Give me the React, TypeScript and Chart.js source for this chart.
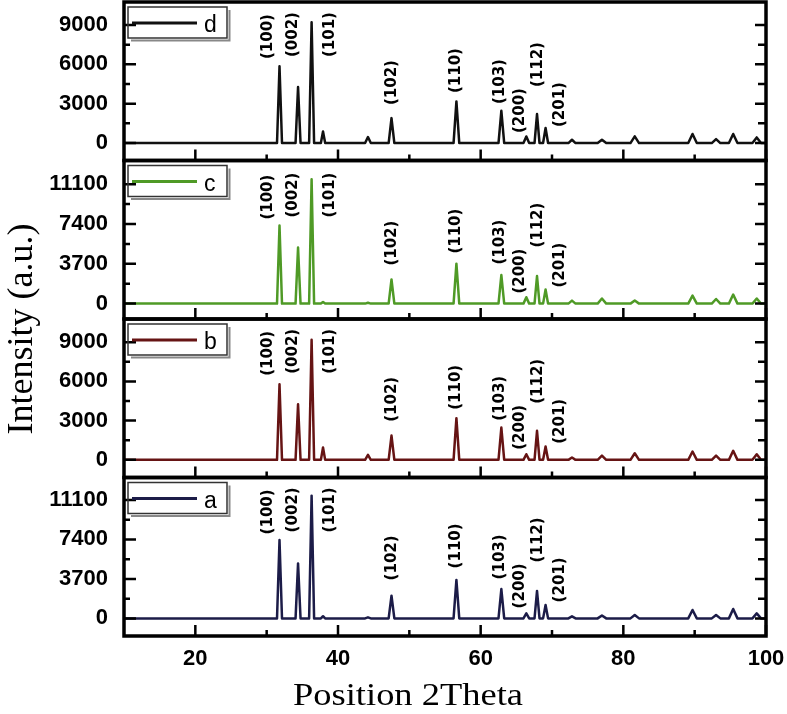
import React, { useEffect, useRef } from 'react';
import { Chart, registerables } from 'chart.js';

Chart.register(...registerables);

// 2-theta positions of the reflections seen in the patterns
const peakPositions = [31.8, 34.4, 36.3, 37.9, 44.2, 47.5, 56.6, 62.9, 66.4, 67.9, 69.1, 72.8, 77.0, 81.6, 89.7, 93.0, 95.4, 98.7];
// half width of each reflection at its base (degrees)
const peakHalfWidths = [0.35, 0.35, 0.35, 0.3, 0.4, 0.4, 0.4, 0.4, 0.4, 0.35, 0.35, 0.5, 0.6, 0.6, 0.6, 0.6, 0.6, 0.6];

const intensityA = [7350, 5150, 11500, 200, 100, 2130, 3600, 2750, 470, 2570, 1255, 190, 280, 320, 790, 320, 880, 470];
const intensityB = [5785, 4255, 9180, 940, 380, 1860, 3185, 2470, 430, 2220, 1020, 175, 330, 500, 635, 330, 690, 430];
const intensityC = [7260, 5220, 11550, 150, 80, 2250, 3715, 2655, 590, 2560, 1310, 280, 470, 280, 750, 430, 845, 470];
const intensityD = [5845, 4270, 9200, 885, 460, 1900, 3170, 2460, 500, 2210, 1145, 250, 250, 510, 690, 300, 690, 430];

const ticks3000 = [0, 3000, 6000, 9000];
const minor3000 = [1500, 4500, 7500];
const ticks3700 = [0, 3700, 7400, 11100];
const minor3700 = [1850, 5550, 9250];

const xTickLabels = [20, 40, 60, 80, 100];
const xMinorTicks = [30, 50, 70, 90];

const hklLabels = ['(100)', '(002)', '(101)', '(102)', '(110)', '(103)', '(200)', '(112)', '(201)'];
const hklLabelX = [30.2, 33.7, 38.9, 47.6, 56.6, 62.7, 65.5, 68.05, 71.1];
const hklLabelLift = [84, 86, 86, 38, 50, 39, 10, 56, 16];

const panels = [
  { id: 'yD', name: 'd', data: intensityD, color: '#111111', min: -1330, max: 10750, major: ticks3000, minor: minor3000, weight: 4 },
  { id: 'yC', name: 'c', data: intensityC, color: '#4f9a26', min: -1430, max: 13300, major: ticks3700, minor: minor3700, weight: 3 },
  { id: 'yB', name: 'b', data: intensityB, color: '#661414', min: -1350, max: 10770, major: ticks3000, minor: minor3000, weight: 2 },
  { id: 'yA', name: 'a', data: intensityA, color: '#1c1c48', min: -1650, max: 13200, major: ticks3700, minor: minor3700, weight: 1 },
];

function buildSeries(heights: number[]) {
  const pts: { x: number; y: number }[] = [{ x: 10, y: 0 }];
  peakPositions.forEach((p, i) => {
    const w = peakHalfWidths[i];
    pts.push({ x: p - w, y: 0 }, { x: p, y: heights[i] }, { x: p + w, y: 0 });
  });
  pts.push({ x: 100, y: 0 });
  return pts;
}

const tickFont = { family: '"Liberation Sans", Arial, sans-serif', size: 22, weight: 'bold' as const };

const framePlugin = {
  id: 'frames',
  afterDatasetsDraw(chart: any) {
    const ctx = chart.ctx as CanvasRenderingContext2D;
    const { left, right } = chart.chartArea;
    const xs = chart.scales.x;
    panels.forEach((p) => {
      const ys = chart.scales[p.id];
      const top = ys.top;
      const bottom = ys.bottom;
      ctx.save();
      ctx.strokeStyle = '#000';
      ctx.lineWidth = 2.5;
      ctx.beginPath();
      p.major.forEach((v) => {
        const y = ys.getPixelForValue(v);
        ctx.moveTo(left, y); ctx.lineTo(left + 12, y);
        ctx.moveTo(right, y); ctx.lineTo(right - 11, y);
      });
      p.minor.forEach((v) => {
        const y = ys.getPixelForValue(v);
        ctx.moveTo(left, y); ctx.lineTo(left + 6, y);
        ctx.moveTo(right, y); ctx.lineTo(right - 8, y);
      });
      xTickLabels.forEach((v) => {
        const x = xs.getPixelForValue(v);
        ctx.moveTo(x, bottom); ctx.lineTo(x, bottom - 11);
      });
      xMinorTicks.forEach((v) => {
        const x = xs.getPixelForValue(v);
        ctx.moveTo(x, bottom); ctx.lineTo(x, bottom - 6);
      });
      ctx.stroke();
      ctx.lineWidth = 3.5;
      ctx.strokeRect(left, top, right - left, bottom - top);

      // legend box
      const bx = left + 4, by = top + 5, bw = 99, bh = 31;
      ctx.lineWidth = 2;
      ctx.strokeStyle = '#888';
      ctx.beginPath();
      ctx.moveTo(bx + bw + 2.5, by + 3); ctx.lineTo(bx + bw + 2.5, by + bh + 2.5); ctx.lineTo(bx + 3, by + bh + 2.5);
      ctx.stroke();
      ctx.lineWidth = 1.5;
      ctx.strokeStyle = '#333';
      ctx.strokeRect(bx, by, bw, bh);
      ctx.strokeStyle = p.color;
      ctx.lineWidth = 3;
      ctx.beginPath();
      ctx.moveTo(left + 8, top + 21); ctx.lineTo(left + 73, top + 21);
      ctx.stroke();
      ctx.fillStyle = '#000';
      ctx.font = '23px "Liberation Sans", Arial, sans-serif';
      ctx.textBaseline = 'alphabetic';
      ctx.textAlign = 'left';
      ctx.fillText(p.name, left + 80, top + 30);

      // hkl labels
      ctx.font = 'bold 15px "DejaVu Sans", sans-serif';
      ctx.textBaseline = 'middle';
      const y0 = ys.getPixelForValue(0);
      hklLabels.forEach((t, i) => {
        ctx.save();
        ctx.translate(xs.getPixelForValue(hklLabelX[i]), y0 - hklLabelLift[i]);
        ctx.rotate(-Math.PI / 2);
        ctx.fillText(t, 0, 0);
        ctx.restore();
      });
      ctx.restore();
    });

    // axis titles
    ctx.save();
    ctx.fillStyle = '#000';
    ctx.font = '36px "Liberation Serif", "Times New Roman", serif';
    ctx.textAlign = 'center';
    ctx.textBaseline = 'alphabetic';
    ctx.translate(32, 329);
    ctx.rotate(-Math.PI / 2);
    ctx.fillText('Intensity (a.u.)', 0, 0);
    ctx.restore();

    ctx.save();
    ctx.fillStyle = '#000';
    ctx.font = '32px "Liberation Serif", "Times New Roman", serif';
    ctx.textAlign = 'center';
    ctx.textBaseline = 'alphabetic';
    const title = 'Position 2Theta';
    const w = ctx.measureText(title).width;
    ctx.translate(408, 705);
    ctx.scale(230 / w, 1);
    ctx.fillText(title, 0, 0);
    ctx.restore();
  },
};

export default function App() {
  const ref = useRef<HTMLCanvasElement>(null);
  useEffect(() => {
    const zeroPad = (s: any) => { s.paddingTop = 0; s.paddingBottom = 0; s.paddingLeft = 0; s.paddingRight = 0; };
    const scales: any = {
      x: {
        type: 'linear',
        position: 'bottom',
        min: 10,
        max: 100,
        grid: { display: false, drawTicks: false },
        border: { display: false },
        ticks: { font: tickFont, color: '#000', padding: 10, autoSkip: false, maxRotation: 0, callback: (v: any) => String(v) },
        afterBuildTicks: (s: any) => { s.ticks = xTickLabels.map((v) => ({ value: v })); },
        afterFit: (s: any) => { s.height = 78; zeroPad(s); },
      },
    };
    panels.forEach((p) => {
      scales[p.id] = {
        type: 'linear',
        position: 'left',
        stack: 'xrd',
        stackWeight: 1,
        weight: p.weight,
        min: p.min,
        max: p.max,
        grid: { display: false, drawTicks: false },
        border: { display: false },
        ticks: { font: tickFont, color: '#000', padding: 16, autoSkip: false, callback: (v: any) => String(v) },
        afterBuildTicks: (s: any) => { s.ticks = p.major.map((v) => ({ value: v })); },
        afterFit: (s: any) => { s.width = 124; zeroPad(s); },
      };
    });
    const chart = new Chart(ref.current!, {
      type: 'line',
      data: {
        datasets: panels.map((p) => ({
          label: p.name,
          data: buildSeries(p.data),
          yAxisID: p.id,
          xAxisID: 'x',
          borderColor: p.color,
          borderWidth: 2.5,
          pointRadius: 0,
          tension: 0,
          fill: false,
          borderJoinStyle: 'round' as const,
        })),
      },
      options: {
        responsive: false,
        animation: false,
        devicePixelRatio: 1,
        layout: { padding: { left: 0, right: 21, top: 2, bottom: 0 } },
        plugins: { legend: { display: false }, tooltip: { enabled: false } },
        scales,
      },
      plugins: [framePlugin],
    });
    return () => chart.destroy();
  }, []);
  return (
    <div style={{ position: 'fixed', left: 0, top: 0, width: 787, height: 714, background: '#fff' }}>
      <canvas ref={ref} width={787} height={714} style={{ display: 'block', width: 787, height: 714 }} />
    </div>
  );
}
